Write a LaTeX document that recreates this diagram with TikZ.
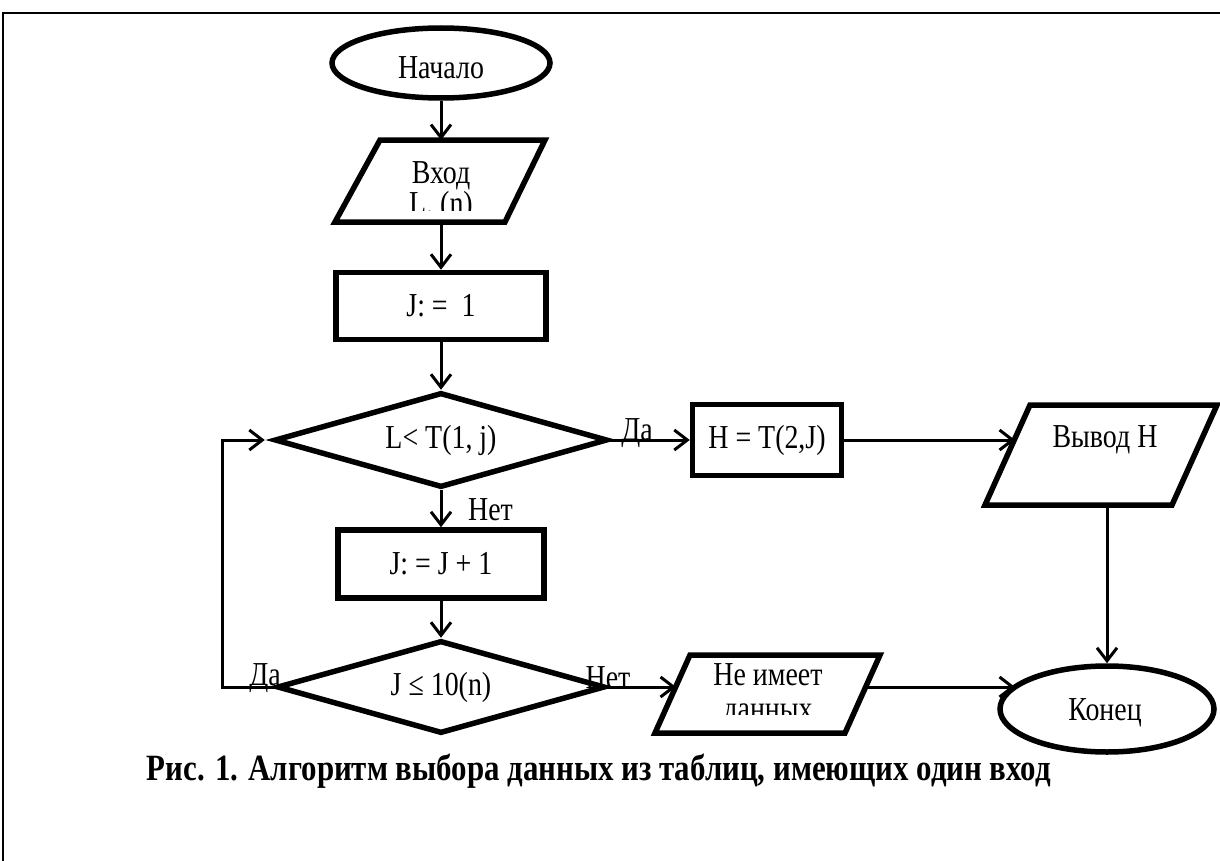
\documentclass[tikz,border=0pt]{standalone}
\usepackage{graphicx}
\usepackage{fontspec}
\setmainfont{Liberation Serif}
\usetikzlibrary{shapes.geometric,arrows.meta,calc}
\newcommand{\vstr}[1]{\scalebox{1}[1.2]{#1}}
\begin{document}
\begin{tikzpicture}[x=1bp,y=-1bp,
  fig/.style={draw, line width=5.5bp, inner sep=0pt, font=\fontsize{28}{32}\selectfont},
  blk/.style={fig, rectangle},
  ell/.style={fig, ellipse},
  dia/.style={fig, diamond, aspect=3.5},
  para/.style={draw, line width=5.5bp, line join=miter},
  txt/.style={inner sep=0pt, font=\fontsize{28}{32}\selectfont},
  wire/.style={line width=3bp},
  conn/.style={wire, -{Straight Barb[length=13bp,width=20bp]}}]
\useasboundingbox (0,0) rectangle (1220,861);
\fill[white] (0,0) rectangle (1220,861);
\draw[line width=2bp] (3,861) -- (3,13) -- (1220,13);

% start
\node[ell, minimum width=218bp, minimum height=70bp] (start) at (441,63) {};
\node[txt] (startText) at (441,68) {\vstr{Начало}};

% input
\draw[para] (380,140) -- (545,140) -- (505,222) -- (335,222) -- cycle;
\coordinate (inTop) at (441,140);
\coordinate (inBot) at (441,222);
\begin{scope}
  \clip (320,140) rectangle (560,210);
  \node[txt, anchor=base] (inText) at (441,183) {\vstr{Вход}};
  \node[txt, anchor=base] (inText2) at (441,214) {\vstr{L, (n)}};
\end{scope}

% J := 1
\node[blk, minimum width=210bp, minimum height=67bp] (j1) at (441,306) {\vstr{J: = \ 1}};

% decision 1
\node[dia, minimum width=333bp, minimum height=95bp] (d1) at (441,440) {\vstr{L< T(1, j)}};

% J := J + 1
\node[blk, minimum width=206bp, minimum height=68bp] (jinc) at (441,564) {\vstr{J: = J + 1}};

% decision 2
\node[dia, minimum width=328bp, minimum height=93bp] (d2) at (441,687) {\vstr{J ≤ 10(n)}};

% H box
\node[blk, minimum width=149bp, minimum height=71bp] (hbox) at (767,440) {\vstr{H = T(2,J)}};

% output
\draw[para] (1030,405) -- (1217,405) -- (1172,505) -- (985,505) -- cycle;
\node[txt] (outText) at (1105,440) {\vstr{Вывод H}};
\coordinate (outIn) at (1015,440);
\coordinate (outBot) at (1107,505);

% end
\node[ell, minimum width=214bp, minimum height=86bp] (konec) at (1107,709) {};
\node[txt] (konecText) at (1105,713) {\vstr{Конец}};
\coordinate (kin) at ($(konec.center)+(-92,-22)$);

% no data
\draw[para] (690,655) -- (880,655) -- (845,733) -- (655,733) -- cycle;
\begin{scope}
  \clip (640,655) rectangle (900,714);
  \node[txt, anchor=base] (neText) at (768,685) {\vstr{Не имеет}};
  \node[txt, anchor=base] (neText2) at (768,719) {\vstr{данных}};
\end{scope}
\coordinate (neIn) at (676,687);
\coordinate (neOut) at (866,687);

% connectors
\draw[conn] (start.south) -- (inTop);
\draw[conn] (inBot) -- (j1.north);
\draw[conn] (j1.south) -- (d1.north);
\draw[conn] (d1.south) -- (jinc.north);
\draw[conn] (jinc.south) -- (d2.north);
\coordinate (loopB) at (222,687);
\draw[conn, shorten >=7bp] (d2.west) -- (loopB) |- (d1.west);
\draw[conn] (d1.east) -- (hbox.west);
\draw[conn] (hbox.east) -- (outIn);
\draw[conn] (outBot) -- (outBot |- konec.north);
\draw[conn] (d2.east) -- (neIn);
\draw[conn] (neOut |- kin) -- (kin);

% labels
\node[txt, anchor=west] (lNo1) at (468,510) {\vstr{Нет}};
\node[txt, anchor=base] (lYes1) at (637,440) {\vstr{Да}};
\node[txt, anchor=base] (lYes2) at (265,685) {\vstr{Да}};
\node[txt, anchor=base] (lNo2) at (608,688) {\vstr{Нет}};

% caption
\node[inner sep=0pt, anchor=base, font=\bfseries\fontsize{31}{36}\selectfont] (cap) at (599,780)
  {\vstr{Рис. 1. Алгоритм выбора данных из таблиц, имеющих один вход}};
\end{tikzpicture}
\end{document}
